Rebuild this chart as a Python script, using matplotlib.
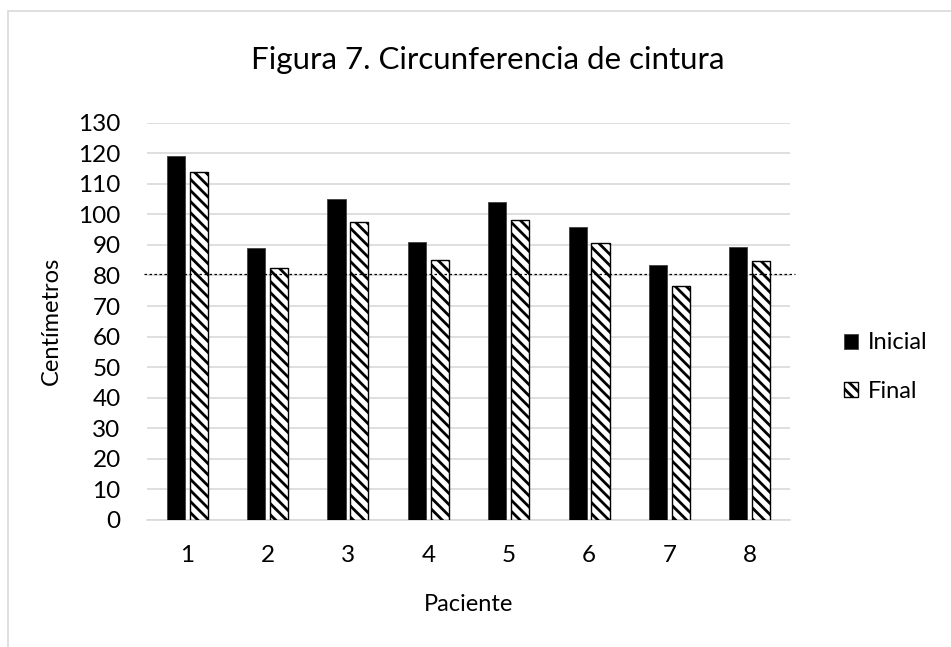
import matplotlib
matplotlib.use("Agg")
import matplotlib.pyplot as plt
import numpy as np
from matplotlib.patches import Rectangle

# ── Data ─────────────────────────────────────────────────────────────────────
pacientes = ["1", "2", "3", "4", "5", "6", "7", "8"]
inicial   = [119, 89, 105, 91, 104, 96, 83.3, 89.2]
final     = [114, 82.4, 97.6, 85, 98, 90.5, 76.7, 84.6]
referencia = 80.5   # dotted reference line

plt.rcParams["font.family"] = ["Lato", "DejaVu Sans"]
plt.rcParams["hatch.linewidth"] = 2.0
plt.rcParams["hatch.color"] = "black"

fig = plt.figure(figsize=(9.51, 6.47), dpi=100)
ax = fig.add_axes([0.1546, 0.1963, 0.6761, 0.6141])

x = np.arange(1, len(pacientes) + 1)
off, w = 0.142, 0.225
ax.bar(x - off, inicial, w, color="black", edgecolor="#404040", linewidth=0.6,
       label="Inicial", zorder=3)
ax.bar(x + off, final, w, color="white", edgecolor="black", linewidth=1.0,
       hatch="\\\\\\", label="Final", zorder=3)

ax.axhline(referencia, xmin=-0.004, xmax=1.008, color="black", linestyle=(0, (2, 2)),
           linewidth=0.9, zorder=4, clip_on=False)

ax.set_xlim(0.5, 8.5)
ax.set_ylim(0, 130)
ax.set_yticks(np.arange(0, 131, 10))
ax.set_xticks(x)
ax.set_xticklabels(pacientes)
ax.yaxis.grid(True, color="#d9d9d9", linewidth=1.2, zorder=0)
ax.set_axisbelow(True)
for s in ["top", "right", "left"]:
    ax.spines[s].set_visible(False)
ax.spines["bottom"].set_color("#d9d9d9")
ax.spines["bottom"].set_linewidth(1.2)
ax.tick_params(axis="both", length=0, labelsize=17.5, colors="black")
ax.tick_params(axis="y", pad=19)
ax.tick_params(axis="x", pad=18)

ax.set_ylabel("Centímetros", fontsize=17, labelpad=12)
ax.set_xlabel("Paciente", fontsize=17, labelpad=20)
fig.text(0.513, 0.907, "Figura 7. Circunferencia de cintura", fontsize=22.5,
         ha="center", va="center")

ax.legend(loc="center left", bbox_to_anchor=(1.051, 0.385), frameon=False,
          fontsize=17, handlelength=0.6, handleheight=0.6, handletextpad=0.4,
          labelspacing=1.15)

fig.patches.append(Rectangle((0.0084, -0.01), 1.0, 0.993, transform=fig.transFigure,
                             fill=False, edgecolor="#d9d9d9", linewidth=1.2))

fig.savefig("out.png", dpi=100)
